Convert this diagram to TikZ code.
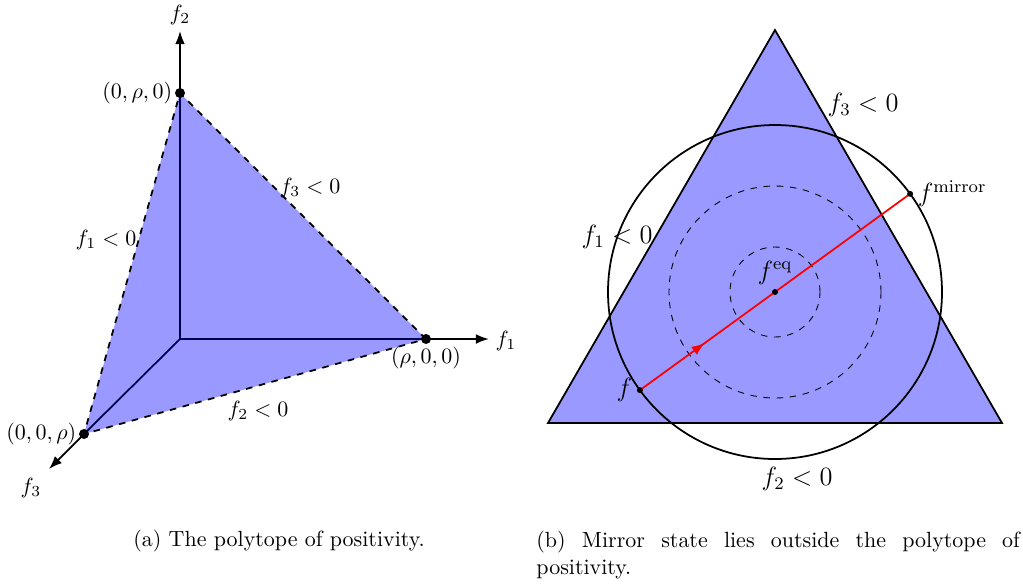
\documentclass[tikz,border=0pt]{standalone}
\usetikzlibrary{arrows.meta,decorations.markings}
\tikzset{
  polyfill/.style={fill=blue!40},
  axisarrow/.style={thick, -{Latex[length=6pt,width=4.5pt]}},
  halfspace/.style={font=\large},
}
\begin{document}
\begin{tikzpicture}[x=0.455pt, y=0.455pt]
\useasboundingbox (0,0) rectangle (1023,-583);

%% === PANNELLO SINISTRO: polytope ===
\coordinate (O)  at (180,-339);
\coordinate (P1) at (426,-339);
\coordinate (P2) at (180,-93);
\coordinate (P3) at (84,-434);
\coordinate (A1) at (489,-339);
\coordinate (A2) at (180,-31);
\coordinate (A3) at (49,-469);

\fill[polyfill] (P1) -- (P2) -- (P3) -- cycle;
\foreach \p in {P1,P2,P3} \draw[blue!30!black, thick] (O) -- (\p);
\draw[dashed, thick] (P1) -- (P2) -- (P3) -- cycle;
\foreach \p/\a in {P1/A1,P2/A2,P3/A3} \draw[axisarrow] (\p) -- (\a);
\foreach \p in {P1,P2,P3} \fill (\p) circle (5);

\node (ax1) at (506,-341) {$f_1$};
\node (ax2) at (180,-15)  {$f_2$};
\node (ax3) at (31,-488)  {$f_3$};

\node[left]  (v2) at (P2) {$(0,\rho,0)$};
\node[below] (v1) at (P1) {$(\rho,0,0)$};
\node[left]  (v3) at (P3) {$(0,0,\rho)$};

\node (e3) at (310,-188) {$f_3<0$};
\node (e1) at (106,-240) {$f_1<0$};
\node (e2) at (258,-411) {$f_2<0$};

\node (capa) at (279,-541) {(a) The polytope of positivity.};

%% === PANNELLO DESTRO: mirror state ===
\coordinate (C)  at (775,-292);
\coordinate (T1) at (548,-423);
\coordinate (T2) at (1002,-423);
\coordinate (T3) at (775,-30);

\filldraw[polyfill, draw=black, thick] (T1) -- (T2) -- (T3) -- cycle;
\draw[thick] (C) circle (167);
\foreach \r in {106,45} \draw[dashed] (C) circle (\r);

\path (C) ++(216:167) coordinate (F);
\path (C) ++(36:167)  coordinate (Fm);

\draw[red, thick, postaction={decorate},
      decoration={markings, mark=at position 0.24 with {\arrow{Latex[length=6pt]}}}]
    (F) -- (Fm);
\foreach \p in {F,C,Fm} \fill (\p) circle (3);

\node[left, halfspace]  (lf)  at (F)  {$f$};
\node[right, halfspace] (lfm) at (Fm) {$f^{\mathrm{mirror}}$};
\node[above, halfspace] (lfe) at (C)  {$f^{\mathrm{eq}}$};

\node[halfspace] (h3) at (863,-105) {$f_3<0$};
\node[halfspace] (h1) at (617,-237) {$f_1<0$};
\node[halfspace] (h2) at (797,-479) {$f_2<0$};

\node[anchor=north west, align=justify, text width=220pt, inner sep=0] (capb) at (536,-531)
    {(b) Mirror state lies outside the polytope of \mbox{positivity.}};

\end{tikzpicture}
\end{document}
